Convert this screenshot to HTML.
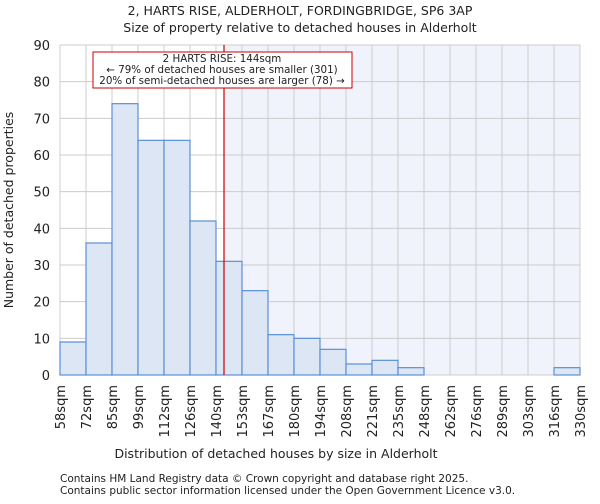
<!DOCTYPE html>
<html><head><meta charset="utf-8"><style>
body{margin:0;background:#fff;font-family:"DejaVu Sans","Liberation Sans",sans-serif}
text{font-family:"DejaVu Sans","Liberation Sans",sans-serif;fill:#222}
</style></head><body>
<svg id="c" width="600" height="500" xmlns="http://www.w3.org/2000/svg">
<text x="300" y="15" text-anchor="middle" font-size="12.5">2, HARTS RISE, ALDERHOLT, FORDINGBRIDGE, SP6 3AP</text>
<text x="300" y="32" text-anchor="middle" font-size="12.5">Size of property relative to detached houses in Alderholt</text>
<g id="plot"></g>
<text x="276" y="458" text-anchor="middle" font-size="12.5">Distribution of detached houses by size in Alderholt</text>
<text transform="translate(13,210) rotate(-90)" text-anchor="middle" font-size="12.5">Number of detached properties</text>
<text x="60" y="482" font-size="10.5" fill="#444">Contains HM Land Registry data © Crown copyright and database right 2025.</text>
<text x="60" y="494" font-size="10.5" fill="#444">Contains public sector information licensed under the Open Government Licence v3.0.</text>
</svg>
<script>
const categories=["58sqm","72sqm","85sqm","99sqm","112sqm","126sqm","140sqm","153sqm","167sqm","180sqm","194sqm","208sqm","221sqm","235sqm","248sqm","262sqm","276sqm","289sqm","303sqm","316sqm","330sqm"];
const counts=[9,36,74,64,64,42,31,23,11,10,7,3,4,2,0,0,0,0,0,2];
const yTicks=[0,10,20,30,40,50,60,70,80,90];
const binEdges=[58,72,85,99,112,126,140,153,167,180,194,208,221,235,248,262,276,289,303,316,330];
const subject=144;
const NS="http://www.w3.org/2000/svg";
const L=60,R=580,T=45,B=375;
const n=counts.length,bw=(R-L)/n;
const xi=i=>L+i*bw;
const y=v=>B-(v/90)*(B-T);
function xv(v){for(let i=0;i<binEdges.length-1;i++){if(v<=binEdges[i+1])return xi(i)+(v-binEdges[i])/(binEdges[i+1]-binEdges[i])*bw;}return R;}
const g=document.getElementById('plot');
function mk(t,a){const e=document.createElementNS(NS,t);for(const k in a)e.setAttribute(k,a[k]);g.appendChild(e);return e;}
const lx=xv(subject);
let e=mk('rect',{x:lx,y:T,width:R-lx,height:B-T,fill:'#f0f3fb'});


for(let i=0;i<=n;i++){e=mk('line',{x1:xi(i),x2:xi(i),y1:T,y2:B,stroke:'#ccc','stroke-width':1});

}
yTicks.forEach(v=>{e=mk('line',{x1:L,x2:R,y1:y(v),y2:y(v),stroke:'#ccc','stroke-width':1});


const t=mk('text',{x:L-10,y:y(v)+5,'text-anchor':'end','font-size':'13'});t.textContent=v;

});
counts.forEach((c,i)=>{if(c<=0)return;e=mk('rect',{x:xi(i),y:y(c),width:bw,height:B-y(c),fill:'#dce6f4',stroke:'#5b8fd6','stroke-width':1.2});

});
categories.forEach((c,i)=>{const t=mk('text',{transform:`translate(${xi(i)+5},385) rotate(-90)`,'text-anchor':'end','font-size':'13'});t.textContent=c;

});
e=mk('line',{x1:lx,x2:lx,y1:T,y2:B,stroke:'#cc0000','stroke-width':1.2});


e=mk('rect',{x:93,y:52,width:259,height:36,fill:'#fff',stroke:'#cc0000','stroke-width':1});


["2 HARTS RISE: 144sqm","← 79% of detached houses are smaller (301)","20% of semi-detached houses are larger (78) →"].forEach((s,k)=>{const t=mk('text',{x:222,y:62+k*11,'text-anchor':'middle','font-size':'10.3'});t.textContent=s;

});
</script>
</body></html>
